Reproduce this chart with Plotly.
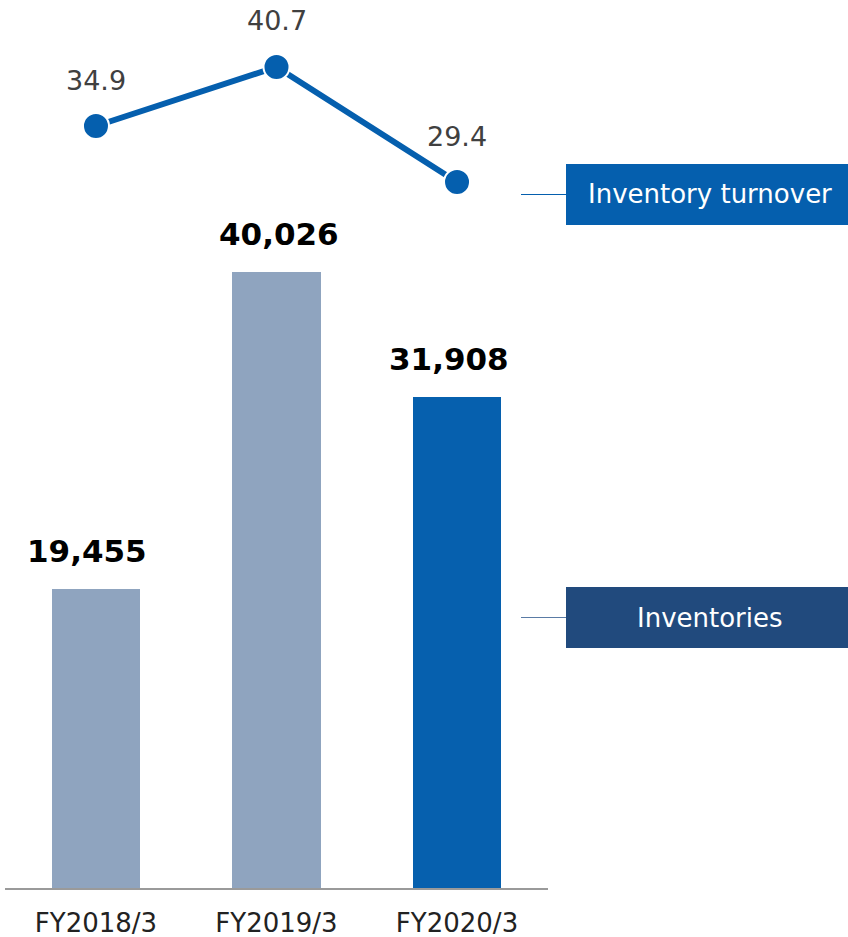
import plotly.graph_objects as go

categories = ["FY2018/3", "FY2019/3", "FY2020/3"]
inventories = [19455, 40026, 31908]
turnover = [34.9, 40.7, 29.4]
bar_colors = ["#8fa4bf", "#8fa4bf", "#0660ae"]
legend_labels = ["Inventory turnover", "Inventories"]

W, H = 848, 937
FONT = "DejaVu Sans"

def px(x):
    return x / W

def py(y):
    return 1 - y / H

fig = go.Figure()
fig.add_trace(go.Bar(
    x=categories, y=inventories, marker=dict(color=bar_colors, line=dict(width=0)),
    width=0.49, yaxis="y", hoverinfo="skip"))
fig.add_trace(go.Scatter(
    x=categories, y=turnover, yaxis="y2", mode="lines+markers",
    line=dict(color="#055fae", width=6),
    marker=dict(size=26, color="#055fae", line=dict(color="white", width=2)),
    hoverinfo="skip"))

annotations = []
label_xshift = [-9, 2, -8]
for c, v, xs in zip(categories, inventories, label_xshift):
    annotations.append(dict(x=c, y=v, xref="x", yref="y", text=f"<b>{v:,}</b>",
                            showarrow=False, yshift=38, xshift=xs, yanchor="middle",
                            font=dict(family=FONT, size=31, color="#000000")))
for c, v in zip(categories, turnover):
    annotations.append(dict(x=c, y=v, xref="x", yref="y2", text=f"{v:.1f}",
                            showarrow=False, yshift=46, yanchor="middle",
                            font=dict(family=FONT, size=27, color="#404040")))

# legend boxes
boxes = [
    dict(label=legend_labels[0], y0=164, y1=225, color="#055fae", line="#055fae"),
    dict(label=legend_labels[1], y0=587, y1=648, color="#214a7d", line="#5a7ba5"),
]
shapes = []
for b in boxes:
    shapes.append(dict(type="rect", xref="paper", yref="paper",
                       x0=px(566), x1=px(848), y0=py(b["y1"]), y1=py(b["y0"]),
                       fillcolor=b["color"], line=dict(width=0), layer="above"))
    ym = (b["y0"] + b["y1"]) / 2
    shapes.append(dict(type="line", xref="paper", yref="paper",
                       x0=px(521), x1=px(566), y0=py(ym), y1=py(ym),
                       line=dict(color=b["line"], width=1.2)))
    annotations.append(dict(x=px(710), y=py(ym), xref="paper", yref="paper",
                            text=b["label"], showarrow=False,
                            xanchor="center", yanchor="middle",
                            font=dict(family=FONT, size=26, color="white")))

base_px = 888
scale_bar = 0.01539
scale_line = 10.18
dom_bottom = (H - base_px) / H

fig.update_layout(
    width=W, height=H, margin=dict(l=0, r=0, t=0, b=0),
    paper_bgcolor="white", plot_bgcolor="white", showlegend=False,
    bargap=0,
    xaxis=dict(domain=[px(5), px(548)], range=[-0.504, 2.504], type="category",
               showline=True, linecolor="#9a9a9a", linewidth=2,
               showgrid=False, zeroline=False,
               ticks="outside", ticklen=11, tickcolor="rgba(0,0,0,0)",
               tickfont=dict(family=FONT, size=26, color="#222222")),
    yaxis=dict(domain=[dom_bottom, 1], range=[0, base_px / scale_bar],
               visible=False, showgrid=False, zeroline=False),
    yaxis2=dict(overlaying="y", range=[29.4 - (base_px - 182) / scale_line,
                                       29.4 + 182 / scale_line],
                visible=False, showgrid=False, zeroline=False),
    shapes=shapes, annotations=annotations,
    font=dict(family=FONT),
)

fig.write_html("out.html", config={"displayModeBar": False},
               post_script="document.body.style.margin='0';document.body.style.overflow='hidden';")
